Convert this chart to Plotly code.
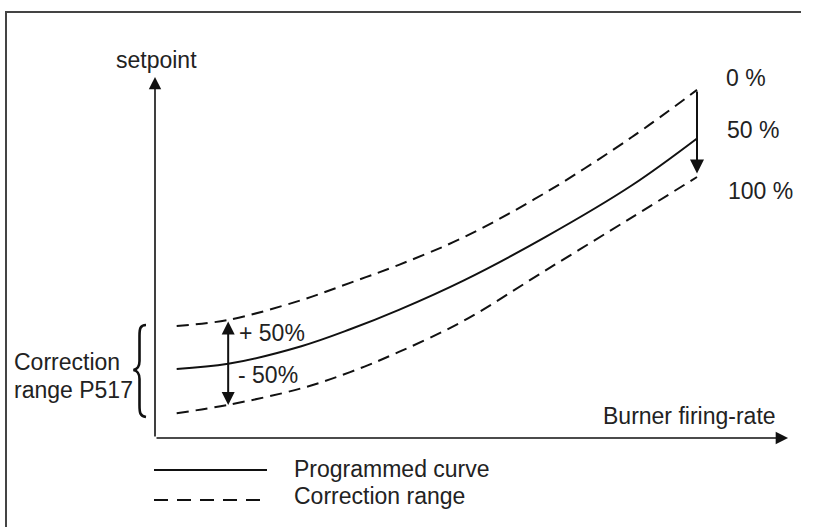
import plotly.graph_objects as go

# ---- data (schematic values) ----
firing_rate = [4, 13.5, 27, 36, 45, 57, 72, 88, 100]
programmed_curve = [19.2, 20.6, 25.5, 30.2, 35.6, 43.8, 55.8, 70.2, 83.2]
correction_upper = [31.1, 32.8, 38.3, 43.1, 48.1, 55.8, 68.1, 83.6, 96.7]
correction_lower = [6.9, 9.2, 13.8, 18.3, 23.9, 32.6, 46.5, 61.3, 72.5]

end_labels = ["0 %", "50 %", "100 %"]
band_labels = ["+ 50%", "- 50%"]
legend_labels = ["Programmed curve", "Correction range"]

# ---- layout constants ----
W, H = 813, 527
X_RANGE = [-28.598, 121.402]
Y_RANGE = [-24.722, 121.667]
X_AXIS_END = 116.8
Y_AXIS_END = 100.3
INK = "#111111"
TXT = "#222222"
FONT = dict(family="Liberation Sans, Arial, sans-serif", size=23, color=TXT)

fig = go.Figure()

fig.add_trace(go.Scatter(x=firing_rate, y=correction_upper, mode="lines",
                         line=dict(color=INK, width=2, dash="12px,7px", shape="spline"),
                         hoverinfo="skip"))
fig.add_trace(go.Scatter(x=firing_rate, y=programmed_curve, mode="lines",
                         line=dict(color=INK, width=2, shape="spline"),
                         hoverinfo="skip"))
fig.add_trace(go.Scatter(x=firing_rate, y=correction_lower, mode="lines",
                         line=dict(color=INK, width=2, dash="12px,7px", shape="spline"),
                         hoverinfo="skip"))
# invisible trace on the pixel-reference overlay axes
fig.add_trace(go.Scatter(x=[0], y=[0], xaxis="x2", yaxis="y2", mode="markers",
                         marker=dict(opacity=0), hoverinfo="skip"))

ann = []
# axes arrows
ann.append(dict(x=X_AXIS_END, y=0, ax=0, ay=0, xref="x", yref="y", axref="x", ayref="y",
                text="", showarrow=True, arrowhead=2, arrowsize=1.55, arrowwidth=1.6,
                arrowcolor=INK, standoff=0))
ann.append(dict(x=0, y=Y_AXIS_END, ax=0, ay=0, xref="x", yref="y", axref="x", ayref="y",
                text="", showarrow=True, arrowhead=2, arrowsize=1.55, arrowwidth=1.6,
                arrowcolor=INK, standoff=0))
# double arrow across the correction band
ann.append(dict(x=firing_rate[1], y=correction_lower[1], ax=firing_rate[1], ay=correction_upper[1],
                xref="x", yref="y", axref="x", ayref="y", text="", showarrow=True,
                arrowhead=2, startarrowhead=2, arrowside="end+start", arrowsize=1.3,
                startarrowsize=1.3, arrowwidth=2, arrowcolor=INK, standoff=0, startstandoff=0))
# down arrow at the end of the curves
ann.append(dict(x=firing_rate[-1], y=correction_lower[-1] + 1, ax=firing_rate[-1], ay=correction_upper[-1],
                xref="x", yref="y", axref="x", ayref="y", text="", showarrow=True,
                arrowhead=2, arrowsize=1.4, arrowwidth=2, arrowcolor=INK, standoff=0))

def txt(s, x, y, xanchor="left"):
    ann.append(dict(text=s, x=x, y=y, xref="x2", yref="y2", xanchor=xanchor,
                    yanchor="middle", showarrow=False, font=FONT))

txt("setpoint", 156, 60, "center")
txt("Burner firing-rate", 601, 416)
txt(end_labels[0], 724, 78)
txt(end_labels[1], 725, 130)
txt(end_labels[2], 726, 191)
txt(band_labels[0], 237, 333)
txt(band_labels[1], 236, 375)
txt("Correction", 12, 362)
txt("range P517", 12, 390)
txt(legend_labels[0], 292, 469)
txt(legend_labels[1], 292, 496)

shapes = [
    # outer frame (cut by the image edges)
    dict(type="line", xref="x2", yref="y2", x0=6, x1=6, y0=12, y1=H,
         line=dict(color="#444444", width=2)),
    dict(type="line", xref="x2", yref="y2", x0=5, x1=W - 12, y0=12, y1=12,
         line=dict(color="#444444", width=2)),
    # curly brace
    dict(type="path", xref="x2", yref="y2",
         path="M 146 325 C 140 325, 139.5 329, 139.5 336 L 139.5 361 C 139.5 367, 137.5 369, 133.5 370 "
              "C 137.5 371, 139.5 373, 139.5 379 L 139.5 405 C 139.5 413, 140 416, 146 417",
         line=dict(color=INK, width=2.6)),
    # legend samples
    dict(type="line", xref="x2", yref="y2", x0=154, x1=267, y0=470, y1=470,
         line=dict(color=INK, width=2)),
    dict(type="line", xref="x2", yref="y2", x0=154, x1=260, y0=500, y1=500,
         line=dict(color=INK, width=2, dash="14px,9px")),
]

fig.update_layout(
    width=W, height=H,
    margin=dict(l=0, r=0, t=0, b=0, pad=0),
    paper_bgcolor="white", plot_bgcolor="white",
    showlegend=False,
    xaxis=dict(range=X_RANGE, visible=False, fixedrange=True),
    yaxis=dict(range=Y_RANGE, visible=False, fixedrange=True),
    xaxis2=dict(range=[0, W], overlaying="x", anchor="y2", visible=False, fixedrange=True),
    yaxis2=dict(range=[H, 0], overlaying="y", anchor="x2", visible=False, fixedrange=True),
    annotations=ann,
    shapes=shapes,
)

fig.write_html("out.html", config={"displayModeBar": False},
               post_script="document.body.style.margin='0';document.body.style.overflow='hidden';")
